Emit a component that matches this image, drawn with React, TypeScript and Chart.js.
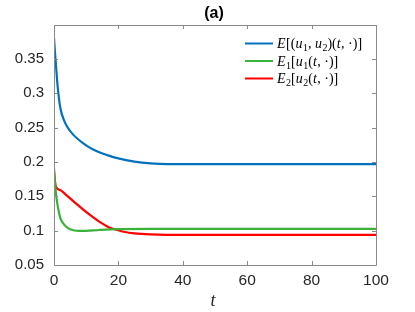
import React, { useEffect, useRef } from "react";
import { Chart, registerables } from "chart.js";

Chart.register(...registerables);

const T_BLUE = [0, 0.3, 0.6, 1, 1.5, 2, 3, 4, 6, 9, 12, 16.5, 20.6, 25, 30, 35, 50, 100];
const V_BLUE = [0.381, 0.36, 0.342, 0.317, 0.294, 0.278, 0.262, 0.252, 0.2395, 0.2275, 0.2185, 0.21, 0.2045, 0.2005, 0.198, 0.197, 0.197, 0.197];

const T_GREEN = [0, 0.3, 0.6, 1, 1.4, 2, 2.8, 4, 5, 7.7, 10, 14, 20, 30, 50, 100];
const V_GREEN = [0.191, 0.17, 0.155, 0.14, 0.13, 0.118, 0.111, 0.105, 0.102, 0.0996, 0.0998, 0.101, 0.1022, 0.1025, 0.1025, 0.1025];

const T_RED = [0, 0.3, 0.6, 2, 4, 6, 9, 12, 14.4, 17, 19.6, 22, 25, 30, 35, 50, 100];
const V_RED = [0.187, 0.172, 0.164, 0.159, 0.151, 0.143, 0.131, 0.12, 0.112, 0.105, 0.101, 0.098, 0.096, 0.0945, 0.094, 0.094, 0.094];

const X_TICKS = [0, 20, 40, 60, 80, 100];
const Y_TICKS = [0.05, 0.1, 0.15, 0.2, 0.25, 0.3, 0.35];
const Y_TICK_LABELS = ["0.05", "0.1", "0.15", "0.2", "0.25", "0.3", "0.35"];

const COLORS = ["#0072BD", "#3AB23A", "#FF0000"];
const TITLE = "(a)";
const X_LABEL = "t";

// legend entries as [text, style] segments: i=italic, r=roman, s=subscript
const LEGEND: [string, string][][] = [
  [["E", "i"], ["[(", "r"], ["u", "i"], ["1", "s"], [", ", "r"], ["u", "i"], ["2", "s"], [")(", "r"], ["t", "i"], [", ·)]", "r"]],
  [["E", "i"], ["1", "s"], ["[", "r"], ["u", "i"], ["1", "s"], ["(", "r"], ["t", "i"], [", ·)]", "r"]],
  [["E", "i"], ["2", "s"], ["[", "r"], ["u", "i"], ["2", "s"], ["(", "r"], ["t", "i"], [", ·)]", "r"]],
];

const pts = (t: number[], v: number[]) => t.map((x, i) => ({ x, y: v[i] }));

const decorPlugin = {
  id: "decor",
  afterDraw(chart: any) {
    const { ctx, chartArea } = chart;
    const xs = chart.scales.x;
    const ys = chart.scales.y;
    const { left, right, top, bottom } = chartArea;
    ctx.save();
    ctx.strokeStyle = "#8a8a8a";
    ctx.lineWidth = 1;
    ctx.beginPath();
    ctx.rect(Math.round(left) + 0.5, Math.round(top) + 0.5, Math.round(right - left), Math.round(bottom - top));
    ctx.stroke();
    const tl = 4;
    ctx.beginPath();
    X_TICKS.forEach((v) => {
      const px = Math.round(xs.getPixelForValue(v)) + 0.5;
      ctx.moveTo(px, bottom);
      ctx.lineTo(px, bottom - tl);
      ctx.moveTo(px, top);
      ctx.lineTo(px, top + tl);
    });
    Y_TICKS.forEach((v) => {
      const py = Math.round(ys.getPixelForValue(v)) + 0.5;
      ctx.moveTo(left, py);
      ctx.lineTo(left + tl, py);
      ctx.moveTo(right, py);
      ctx.lineTo(right - tl, py);
    });
    ctx.stroke();

    // title
    const cx = (left + right) / 2;
    ctx.fillStyle = "#000";
    ctx.font = "bold 16px 'Liberation Sans', Arial, sans-serif";
    ctx.textAlign = "center";
    ctx.textBaseline = "middle";
    ctx.fillText(TITLE, cx - 1, 14);
    // x label
    ctx.fillStyle = "#262626";
    ctx.font = "italic 18px 'Liberation Serif', serif";
    ctx.fillText(X_LABEL, cx - 2, 301);

    // legend
    const rowsY = [43.5, 61, 78.5];
    const lineX0 = 245;
    const lineX1 = 273;
    const textX = 277;
    ctx.textAlign = "left";
    ctx.textBaseline = "alphabetic";
    LEGEND.forEach((segs, i) => {
      const y = rowsY[i];
      ctx.strokeStyle = COLORS[i];
      ctx.lineWidth = 2;
      ctx.beginPath();
      ctx.moveTo(lineX0, y);
      ctx.lineTo(lineX1, y);
      ctx.stroke();
      let x = textX;
      const base = y + 4.5;
      ctx.fillStyle = "#000";
      segs.forEach(([s, st]) => {
        if (st === "i") ctx.font = "italic 14px 'Liberation Serif', serif";
        else if (st === "s") ctx.font = "10px 'Liberation Serif', serif";
        else ctx.font = "14px 'Liberation Serif', serif";
        const yy = st === "s" ? base + 3 : base;
        ctx.fillText(s, x, yy);
        x += ctx.measureText(s).width + (st === "i" ? 0.5 : 0);
      });
    });
    ctx.restore();
  },
};

export default function App() {
  const ref = useRef<HTMLCanvasElement>(null);
  useEffect(() => {
    if (!ref.current) return;
    const mk = (t: number[], v: number[], c: string, w: number) => ({
      data: pts(t, v),
      borderColor: c,
      backgroundColor: c,
      borderWidth: w,
      pointRadius: 0,
      cubicInterpolationMode: "monotone" as const,
      fill: false,
    });
    const chart = new Chart(ref.current, {
      type: "line",
      data: {
        datasets: [
          mk(T_BLUE, V_BLUE, COLORS[0], 2.2),
          mk(T_GREEN, V_GREEN, COLORS[1], 2.2),
          mk(T_RED, V_RED, COLORS[2], 2.2),
        ],
      },
      options: {
        animation: false,
        responsive: true,
        maintainAspectRatio: false,
        layout: { padding: { top: 25, right: 39, left: 0, bottom: 0 } },
        plugins: { legend: { display: false }, title: { display: false }, tooltip: { enabled: false } },
        scales: {
          x: {
            type: "linear",
            min: 0,
            max: 100,
            grid: { display: false, drawTicks: false },
            border: { display: false },
            afterBuildTicks: (s: any) => {
              s.ticks = X_TICKS.map((v) => ({ value: v }));
            },
            afterFit: (s: any) => {
              s.height = 47;
            },
            ticks: {
              padding: 6.5,
              color: "#262626",
              font: { family: "'Liberation Sans', Arial, sans-serif", size: 15.5 },
              maxRotation: 0,
              callback: (v: any) => String(v),
            },
          },
          y: {
            type: "linear",
            min: 0.05,
            max: 0.3995,
            grid: { display: false, drawTicks: false },
            border: { display: false },
            afterBuildTicks: (s: any) => {
              s.ticks = Y_TICKS.map((v) => ({ value: v }));
            },
            afterFit: (s: any) => {
              s.width = 54;
            },
            ticks: {
              padding: 10,
              color: "#262626",
              font: { family: "'Liberation Sans', Arial, sans-serif", size: 15 },
              callback: (_v: any, i: number) => Y_TICK_LABELS[i],
            },
          },
        },
      },
      plugins: [decorPlugin],
    });
    return () => chart.destroy();
  }, []);
  return (
    <div style={{ position: "absolute", left: 0, top: 0, width: 415, height: 312, background: "#fff" }}>
      <canvas ref={ref} />
    </div>
  );
}
